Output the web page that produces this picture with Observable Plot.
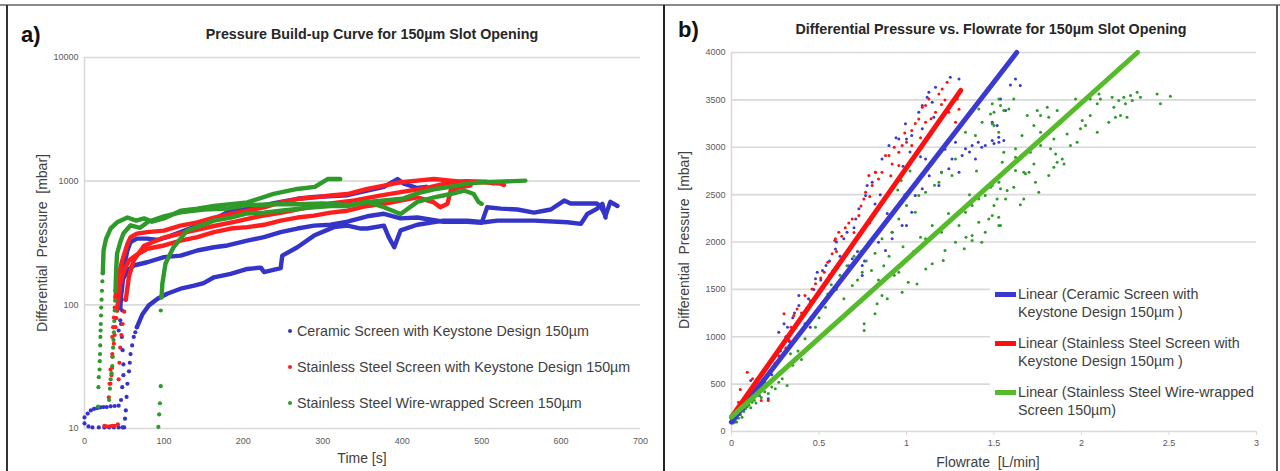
<!DOCTYPE html>
<html>
<head>
<meta charset="utf-8">
<script src="https://cdn.jsdelivr.net/npm/d3@7"></script>
<script src="https://cdn.jsdelivr.net/npm/@observablehq/plot@0.6"></script>
<style>
  body { margin: 0; background: #fff; }
  #wrap { position: relative; width: 1280px; height: 471px; background: #fff; overflow: hidden; font-family: "Liberation Sans", Arial, sans-serif; }
  .abs { position: absolute; white-space: nowrap; }
  .title { font-weight: bold; font-size: 14.3px; color: #262626; transform: translateX(-50%); }
  .panel { font-weight: bold; font-size: 22px; color: #111; }
  .axt { font-size: 14px; color: #404040; }
  .lg { font-size: 14.3px; color: #404040; line-height: 18px; }
</style>
</head>
<body>
<div id="wrap">
  <div id="chartA" class="abs" style="left:0;top:0"></div>
  <div id="chartB" class="abs" style="left:663px;top:0"></div>
</div>
<script>
// ---------- Panel a: pressure build-up (time [s], pressure [mbar]) ----------
const timeTicks = [0, 100, 200, 300, 400, 500, 600, 700];
const pressureTicks = [10, 100, 1000, 10000];

const ceramicRun1Rise = [[0,11],[5,10.4],[10,10.2],[18,10.2],[25,10.2],[31,10.2],[37,10.2],[43,10.2],[48,10.2],[50,10.2],[51,12],[52,14],[53,18],[54,23],[56,29],[57,34],[58,40],[60,47],[62,55],[64,60],[66,66]];
const ceramicRun1 = [[66,66],[73,84],[81,99],[92,112],[104,123],[121,135],[138,143],[150,150],[163,167],[184,178],[205,195],[222,200],[226,184],[243,195],[247,198],[249,250],[268,292],[289,363],[314,425],[331,437],[348,414],[356,414],[377,437],[383,353],[390,292],[393,330],[398,400],[419,444],[452,480],[482,480],[503,465],[520,480],[566,480],[608,465],[625,452],[633,543],[645,597],[652,656],[656,508]];
const ceramicRun2Rise = [[0,12.3],[4,13.2],[8,14],[12,14.4],[16,14.6],[20,14.8],[24,14.9],[28,14.9],[33,15.1],[38,15.2],[43,15.3],[46,17],[47.5,21.6],[49,27],[49,33],[48,43],[47,55],[46,70],[45,94]];
const ceramicRun2 = [[45,94],[47.5,157],[54,189],[62,208],[79,221],[100,243],[121,250],[142,275],[163,292],[180,302],[205,330],[226,353],[247,387],[268,414],[289,437],[310,444],[331,470],[356,520],[377,545],[398,500],[419,508],[452,470],[482,470],[500,460],[507,615],[524,600],[545,590],[566,557],[587,590],[604,697],[612,660],[629,660],[645,660],[650,620],[656,527],[662,680],[671,630]];
const ceramicRun3Rise = [[43,62],[45,75],[47.5,90],[47,110],[47,130]];
const ceramicRun3 = [[47,130],[49.6,202],[54,275],[58,322],[66,343],[79,343],[92,335],[104,353],[121,387],[142,437],[163,493],[180,560],[205,610],[226,640],[247,680],[268,720],[289,745],[331,770],[356,840],[377,900],[394,1040],[402,955],[419,880],[430,900]];

const steelRun1Rise = [[32.7,23],[34,27],[34.8,31],[35,40],[35,55],[36,66],[37,79],[38,95],[39,115]];
const steelRun1 = [[39,115],[41,157],[47.5,228],[54,311],[58,353],[66,377],[79,387],[100,398],[121,437],[142,465],[163,508],[184,543],[205,577],[226,615],[247,673],[268,717],[289,740],[310,765],[331,787],[356,865],[377,920],[398,980],[419,1010],[440,1040],[461,1010],[482,980],[503,980],[524,955],[528,930]];
const steelRun2Rise = [[30.6,17.9],[31.5,23],[32.7,30],[35,38],[37,48.5],[38,57],[39,66],[40,78],[41,90]];
const steelRun2 = [[41,90],[45,148],[49.6,189],[56,228],[64,250],[79,284],[100,302],[121,330],[142,353],[163,387],[184,414],[205,425],[226,444],[247,480],[268,508],[289,527],[310,557],[331,577],[356,630],[377,656],[398,697],[419,740],[440,673],[448,615],[457,656],[461,840],[474,897],[486,920]];
const steelRun3Rise = [[25,10.5],[28,10.4],[32,10.4],[35,10.5],[38,10.5],[42,10.8],[43,25],[44,34],[45,45],[46.5,57],[48,70],[50,88],[52,110]];
const steelRun3 = [[52,110],[56,170],[62,230],[75,300],[100,350],[130,390],[160,430],[190,470],[220,520],[250,560],[280,610],[310,660],[340,700],[370,760],[400,820],[430,880],[455,960],[480,1000],[505,990],[515,960]];

const wireRun1Rise = [[17,15],[17.5,21.6],[18,26],[19,30],[19.2,35],[19.5,40],[19.8,47],[20,55],[20.3,62],[20.5,70],[20.8,82],[21,95],[21.5,110],[22,130],[22.5,155],[23,180]];
const wireRun1 = [[23,180],[24,275],[27,340],[33,415],[41,465],[54,508],[65,480],[75,500],[85,470],[100,500],[121,577],[142,600],[163,630],[205,673],[238,790],[268,865],[290,900],[306,1040],[322,1040]];
const wireRun2Rise = [[31,17],[32,21],[33,25],[34,28],[35,32],[35.5,38],[36,45],[36.5,52],[37,60],[37.5,74],[38,90],[38.5,108],[39,130]];
const wireRun2 = [[39,130],[40,200],[41,260],[45,320],[49,377],[58,440],[70,420],[80,470],[100,520],[121,560],[150,590],[180,600],[205,640],[240,650],[270,650],[300,660],[335,640],[356,680],[377,700],[400,720],[420,800],[440,860],[460,900],[480,950],[500,980],[520,990],[540,1000],[555,1010]];
const wireRun3Rise = [[93,10.3],[94,13],[95,16],[96,22],[96,90],[97,115]];
const wireRun3 = [[97,115],[98,148],[102,216],[112,292],[129,398],[146,437],[163,480],[184,508],[205,548],[226,557],[247,577],[268,597],[289,615],[310,630],[331,630],[356,680],[377,615],[398,543],[419,680],[440,740],[461,787],[478,840],[490,787],[496,680],[500,656]];

// ---------- Panel b: differential pressure vs flowrate (L/min, mbar) ----------
const flowTicks = [0, 0.5, 1, 1.5, 2, 2.5, 3];
const dpTicks = [0, 500, 1000, 1500, 2000, 2500, 3000, 3500, 4000];

const ceramicPoints = [[0.02,100],[0.03,150],[0.04,200],[0.05,180],[0.06,250],[0.07,230],[0.08,300],[0.1,350],[0.11,538],[0.13,420],[0.147,556],[0.16,380],[0.18,480],[0.21,345],[0.23,600],[0.25,700],[0.27,1048],[0.28,850],[0.3,1136],[0.31,1000],[0.32,1100],[0.33,950],[0.35,1200],[0.36,1250],[0.385,1435],[0.385,1330],[0.4,1200],[0.42,1136],[0.44,1400],[0.45,1101],[0.47,1500],[0.48,1611],[0.49,1681],[0.51,1600],[0.52,1700],[0.54,1752],[0.56,1800],[0.58,1700],[0.594,1927],[0.6,2000],[0.62,1850],[0.642,2033],[0.65,1646],[0.66,2103],[0.67,1750],[0.69,1822],[0.7,2150],[0.71,2244],[0.72,1900],[0.728,2350],[0.747,1752],[0.747,1646],[0.76,1800],[0.766,2490],[0.775,2596],[0.785,1998],[0.79,2200],[0.804,2631],[0.82,2400],[0.823,2737],[0.84,1998],[0.85,2500],[0.86,2877],[0.88,1910],[0.89,2300],[0.9,3018],[0.918,2033],[0.918,2103],[0.93,2600],[0.94,3100],[0.956,3088],[0.956,2385],[0.975,2174],[0.98,2800],[0.994,3247],[1.0,3088],[1.0,2174],[1.02,2950],[1.03,3123],[1.03,2314],[1.05,2490],[1.07,3370],[1.08,2900],[1.09,3194],[1.09,3440],[1.09,2561],[1.109,2877],[1.118,3528],[1.128,3581],[1.13,2700],[1.147,3475],[1.156,3317],[1.166,3634],[1.185,2596],[1.2,2737],[1.22,2980],[1.242,2772],[1.25,3739],[1.26,2877],[1.28,3053],[1.3,3721],[1.3,2737],[1.318,2912],[1.337,2983],[1.36,2950],[1.375,3018],[1.394,2877],[1.41,3053],[1.43,3000],[1.45,3018],[1.49,3071],[1.49,3264],[1.5,3040],[1.518,3229],[1.527,3106],[1.528,3053],[1.537,3510],[1.556,3071],[1.566,3387],[1.594,3658],[1.623,3721],[1.65,3651]];

const steelPoints = [[0.02,130],[0.03,180],[0.04,310],[0.05,443],[0.05,250],[0.06,300],[0.07,260],[0.09,626],[0.1,330],[0.12,556],[0.13,400],[0.15,450],[0.17,327],[0.19,520],[0.21,327],[0.22,640],[0.25,720],[0.27,800],[0.28,900],[0.3,1242],[0.31,880],[0.33,960],[0.34,1100],[0.356,1224],[0.375,1294],[0.38,1150],[0.4,1250],[0.42,1435],[0.43,1300],[0.45,1380],[0.46,1505],[0.48,1560],[0.5,1480],[0.51,1620],[0.53,1681],[0.55,1787],[0.56,1650],[0.575,1875],[0.59,2015],[0.6,1900],[0.594,2033],[0.613,2103],[0.63,2060],[0.65,2150],[0.67,2200],[0.69,2244],[0.7,2100],[0.728,2279],[0.74,2380],[0.756,2455],[0.766,2526],[0.785,2701],[0.79,2480],[0.804,2596],[0.823,2737],[0.84,2666],[0.86,2737],[0.88,2912],[0.9,2912],[0.91,2700],[0.918,2824],[0.93,3000],[0.956,2948],[0.956,2807],[0.975,3018],[0.99,3150],[1.0,3053],[1.03,3018],[1.03,3176],[1.05,3250],[1.07,3299],[1.08,3100],[1.09,3422],[1.109,3440],[1.109,3264],[1.128,3510],[1.14,3300],[1.166,3370],[1.185,3563],[1.2,3450],[1.204,3616],[1.22,3500],[1.232,3686],[1.242,3370],[1.26,3475],[1.28,3264],[1.29,3510],[1.3,3400]];

const wirePoints = [[0.01,90],[0.02,120],[0.02,160],[0.03,100],[0.03,200],[0.04,140],[0.05,180],[0.05,230],[0.06,150],[0.07,210],[0.08,239],[0.09,260],[0.1,280],[0.11,250],[0.118,310],[0.13,330],[0.14,300],[0.156,380],[0.17,360],[0.19,420],[0.21,400],[0.23,470],[0.25,450],[0.27,520],[0.29,556],[0.318,485],[0.337,820],[0.35,700],[0.38,850],[0.4,760],[0.42,978],[0.45,900],[0.48,1100],[0.5,1200],[0.537,1312],[0.55,1450],[0.57,1550],[0.6,1500],[0.62,1650],[0.642,1400],[0.66,1750],[0.69,1540],[0.7,1850],[0.72,1600],[0.74,1900],[0.747,1681],[0.758,1136],[0.758,1066],[0.77,1800],[0.78,1950],[0.8,1700],[0.82,1242],[0.82,1880],[0.832,1347],[0.84,1600],[0.86,1435],[0.86,2033],[0.87,1750],[0.89,1400],[0.9,1850],[0.918,2103],[0.93,1650],[0.95,2550],[0.956,1681],[0.956,2244],[0.97,2650],[0.975,1470],[0.98,1950],[0.99,2500],[1.0,2385],[1.01,1576],[1.02,2750],[1.03,2561],[1.04,1900],[1.05,2314],[1.06,1558],[1.07,2490],[1.08,2050],[1.109,2526],[1.109,2033],[1.11,1716],[1.147,1770],[1.147,2174],[1.16,2600],[1.185,2631],[1.2,2737],[1.2,2103],[1.21,1804],[1.22,1910],[1.24,2300],[1.26,2701],[1.26,2244],[1.28,2877],[1.28,1998],[1.3,2174],[1.33,1928],[1.34,2050],[1.337,3159],[1.337,2314],[1.36,2500],[1.375,2385],[1.375,2015],[1.375,2068],[1.394,3123],[1.4,2750],[1.413,3405],[1.413,2455],[1.413,2209],[1.43,1998],[1.432,3264],[1.45,2490],[1.45,2103],[1.47,2244],[1.48,3352],[1.48,2578],[1.49,3458],[1.49,3247],[1.49,2596],[1.49,2279],[1.5,3370],[1.5,3229],[1.5,2385],[1.518,2455],[1.527,3159],[1.527,2262],[1.528,3510],[1.528,2631],[1.528,2174],[1.537,3440],[1.537,2561],[1.537,2174],[1.547,2842],[1.556,3387],[1.556,2948],[1.566,2754],[1.566,2455],[1.575,2543],[1.585,3405],[1.613,3510],[1.613,2578],[1.623,2983],[1.623,2754],[1.623,2895],[1.65,2392],[1.66,3123],[1.66,2912],[1.67,2737],[1.67,2455],[1.68,2719],[1.69,3335],[1.7,2737],[1.708,2948],[1.728,3229],[1.728,2824],[1.737,2631],[1.747,3387],[1.756,2526],[1.766,3335],[1.766,3159],[1.766,3018],[1.804,3422],[1.813,3317],[1.813,2701],[1.823,2983],[1.842,3088],[1.842,2789],[1.852,2930],[1.861,3387],[1.861,2842],[1.89,2877],[1.9,2824],[1.918,3141],[1.937,3018],[1.966,3510],[1.975,3053],[1.994,3194],[2.004,3282],[2.023,3229],[2.05,3335],[2.05,3510],[2.09,3458],[2.09,3159],[2.1,3563],[2.108,3510],[2.156,3264],[2.175,3528],[2.185,3422],[2.194,3317],[2.213,3493],[2.223,3335],[2.242,3528],[2.251,3458],[2.26,3317],[2.28,3546],[2.29,3493],[2.318,3581],[2.337,3528],[2.432,3563],[2.451,3458],[2.508,3539]];

const ceramicTrend = [[0,100],[1.63,4000]];
const steelTrend = [[0,150],[1.31,3600]];
const wireTrend = [[0,155],[2.32,4000]];

const seriesA = ["Ceramic Screen with Keystone Design 150µm", "Stainless Steel Screen with Keystone Design 150µm", "Stainless Steel Wire-wrapped Screen 150µm"];
const seriesB = [["Linear (Ceramic Screen with", "Keystone Design 150µm )"], ["Linear (Stainless Steel Screen with", "Keystone Design 150µm )"], ["Linear (Stainless Steel Wire-wrapped", "Screen 150µm)"]];

// ---------- styling ----------
const BLUE = "#3434c8", RED = "#ff1e1e", GREEN = "#2e9a2a";
const BLUE_L = "#3a3ad2", RED_L = "#ff1010", GREEN_L = "#56bb2a";
const GRID = "#d9d9d9";
const fontFam = "'Liberation Sans', Arial, sans-serif";
const px = d => d[0], py = d => d[1];

function runMarks(rise, path, color) {
  return [
    Plot.dot(rise, {x: px, y: py, r: 2.1, fill: color}),
    Plot.line(path, {x: px, y: py, stroke: color, strokeWidth: 4.4, strokeLinejoin: "round", strokeLinecap: "round"})
  ];
}

const chartA = Plot.plot({
  width: 663, height: 471,
  marginLeft: 84, marginRight: 23, marginTop: 57, marginBottom: 43,
  style: {fontFamily: fontFam, fontSize: "9px", color: "#595959", background: "transparent", overflow: "visible"},
  x: {domain: [0, 700]},
  y: {type: "log", domain: [10, 10000]},
  marks: [
    Plot.gridY(pressureTicks, {stroke: GRID, strokeOpacity: 1, strokeWidth: 1.6}),
    Plot.ruleX([0], {stroke: GRID, strokeWidth: 1.6}),
    Plot.axisX(timeTicks, {tickSize: 0, tickPadding: 9, label: null, tickFormat: d => String(d)}),
    Plot.axisY(pressureTicks, {tickSize: 0, tickPadding: 6, label: null, tickFormat: d => String(d)}),
    ...runMarks(ceramicRun1Rise, ceramicRun1, BLUE),
    ...runMarks(ceramicRun2Rise, ceramicRun2, BLUE),
    ...runMarks(ceramicRun3Rise, ceramicRun3, BLUE),
    ...runMarks(steelRun1Rise, steelRun1, RED),
    ...runMarks(steelRun2Rise, steelRun2, RED),
    ...runMarks(steelRun3Rise, steelRun3, RED),
    ...runMarks(wireRun1Rise, wireRun1, GREEN),
    ...runMarks(wireRun2Rise, wireRun2, GREEN),
    ...runMarks(wireRun3Rise, wireRun3, GREEN)
  ]
});
document.getElementById("chartA").appendChild(chartA);

const chartB = Plot.plot({
  width: 617, height: 471,
  marginLeft: 68, marginRight: 24, marginTop: 52, marginBottom: 40,
  style: {fontFamily: fontFam, fontSize: "9px", color: "#595959", background: "transparent", overflow: "visible"},
  x: {domain: [0, 3]},
  y: {domain: [0, 4000]},
  marks: [
    Plot.gridY(dpTicks, {stroke: GRID, strokeOpacity: 1, strokeWidth: 1.6}),
    Plot.ruleX([0], {stroke: GRID, strokeWidth: 1.6}),
    Plot.axisX(flowTicks, {tickSize: 4, stroke: GRID, tickPadding: 4, label: null, tickFormat: d => String(d)}),
    Plot.axisY(dpTicks, {tickSize: 0, tickPadding: 6, label: null, tickFormat: d => String(d)}),
    Plot.dot(ceramicPoints, {x: px, y: py, r: 1.5, fill: BLUE_L}),
    Plot.dot(steelPoints, {x: px, y: py, r: 1.5, fill: RED_L}),
    Plot.dot(wirePoints, {x: px, y: py, r: 1.5, fill: GREEN}),
    Plot.line(ceramicTrend, {x: px, y: py, stroke: BLUE_L, strokeWidth: 5}),
    Plot.line(steelTrend, {x: px, y: py, stroke: RED_L, strokeWidth: 5}),
    Plot.line(wireTrend, {x: px, y: py, stroke: GREEN_L, strokeWidth: 5})
  ]
});
document.getElementById("chartB").appendChild(chartB);

// ---------- text, legends, frame ----------
const wrap = document.getElementById("wrap");
function add(html, cls, style) {
  const el = document.createElement("div");
  el.className = "abs " + (cls || "");
  el.setAttribute("style", style);
  el.innerHTML = html;
  wrap.appendChild(el);
  return el;
}
// frame lines
add("", "", "left:0;top:4px;width:1280px;height:2px;background:#8a8a8a");
add("", "", "left:6px;top:5px;width:1.5px;height:466px;background:#333");
add("", "", "left:663px;top:5px;width:1.5px;height:466px;background:#222");
add("", "", "left:1276px;top:5px;width:1.5px;height:466px;background:#555");

add("a)", "panel", "left:21px;top:22px");
add("b)", "panel", "left:678px;top:17px");
add("Pressure Build-up Curve for 150µm Slot Opening", "title", "left:372px;top:26px");
add("Differential Pressure vs. Flowrate for 150µm Slot Opening", "title", "left:991px;top:21px");

add("Differential&nbsp; Pressure&nbsp; [mbar]", "axt", "left:42px;top:243px;transform:translate(-50%,-50%) rotate(-90deg)");
add("Differential&nbsp; Pressure&nbsp; [mbar]", "axt", "left:684px;top:240px;transform:translate(-50%,-50%) rotate(-90deg)");
add("Time [s]", "axt", "left:362px;top:458px;transform:translate(-50%,-50%)");
add("Flowrate&nbsp; [L/min]", "axt", "left:988px;top:462px;transform:translate(-50%,-50%)");

// legend a
const colA = [BLUE, RED, GREEN];
const yA = [331, 367, 403];
seriesA.forEach((name, i) => {
  add("", "", `left:288px;top:${yA[i]-2}px;width:4px;height:4px;border-radius:2px;background:${colA[i]}`);
  add(name, "lg", `left:297px;top:${yA[i]-9}px`);
});

// legend b
add("", "", "left:990px;top:268px;width:268px;height:158px;background:#fff");
const colB = [BLUE_L, RED_L, GREEN_L];
const yB = [294, 343, 392];
seriesB.forEach((lines, i) => {
  add("", "", `left:995px;top:${yB[i]-2.5}px;width:21px;height:5px;background:${colB[i]}`);
  add(lines.join("<br>"), "lg", `left:1018px;top:${yB[i]-9}px`);
});
</script>
</body>
</html>
